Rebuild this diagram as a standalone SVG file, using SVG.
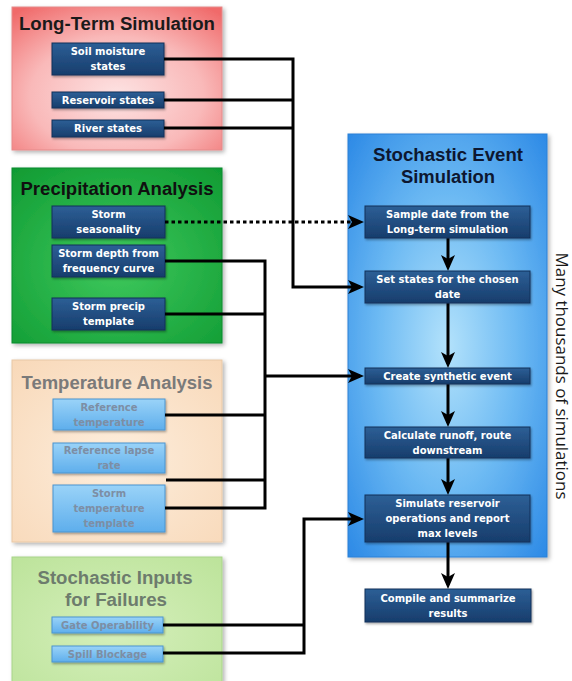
<svg xmlns="http://www.w3.org/2000/svg" width="572" height="681" viewBox="0 0 572 681">
  <defs>
    <radialGradient id="gPink" cx="0.5" cy="0.62" r="0.75">
      <stop offset="0" stop-color="#fde3e3"/>
      <stop offset="0.55" stop-color="#f9b9b9"/>
      <stop offset="1" stop-color="#f06b6b"/>
    </radialGradient>
    <radialGradient id="gGreen" cx="0.5" cy="0.55" r="0.75">
      <stop offset="0" stop-color="#3fc95d"/>
      <stop offset="1" stop-color="#0f9a32"/>
    </radialGradient>
    <radialGradient id="gPeach" cx="0.5" cy="0.55" r="0.75">
      <stop offset="0" stop-color="#fdeedd"/>
      <stop offset="1" stop-color="#f8d8b8"/>
    </radialGradient>
    <radialGradient id="gLime" cx="0.5" cy="0.55" r="0.75">
      <stop offset="0" stop-color="#d5efbb"/>
      <stop offset="1" stop-color="#bce39a"/>
    </radialGradient>
    <radialGradient id="gSky" cx="0.5" cy="0.5" r="0.7">
      <stop offset="0" stop-color="#b3e2fb"/>
      <stop offset="0.5" stop-color="#6dbaf3"/>
      <stop offset="1" stop-color="#2d8ae6"/>
    </radialGradient>
    <linearGradient id="gNavy" x1="0" y1="0" x2="0" y2="1">
      <stop offset="0" stop-color="#2d5f96"/>
      <stop offset="1" stop-color="#173d6c"/>
    </linearGradient>
    <linearGradient id="gLight" x1="0" y1="0" x2="0" y2="1">
      <stop offset="0" stop-color="#9ad3f8"/>
      <stop offset="1" stop-color="#5eaeec"/>
    </linearGradient>
    <filter id="shadow" x="-10%" y="-10%" width="125%" height="125%">
      <feDropShadow dx="2" dy="2" stdDeviation="2" flood-color="#000" flood-opacity="0.3"/>
    </filter>
    <filter id="nshadow" x="-10%" y="-20%" width="125%" height="160%">
      <feDropShadow dx="1" dy="1.5" stdDeviation="1" flood-color="#000" flood-opacity="0.35"/>
    </filter>
    <marker id="arrow" markerUnits="userSpaceOnUse" markerWidth="17" markerHeight="15" refX="12" refY="7" orient="auto">
      <path d="M0,0 L16,7 L0,14 L4,7 Z" fill="#000"/>
    </marker>
    <style>
      .panel { stroke-width: 1; filter: url(#shadow); }
      .title { font-family: "Liberation Sans", Arial, sans-serif; font-weight: bold; text-anchor: middle; }
      .node { fill: url(#gNavy); stroke: #10305a; stroke-width: 1; filter: url(#nshadow); }
      .lnode { fill: url(#gLight); stroke: #4b94cf; stroke-width: 1; filter: url(#nshadow); }
      .nt { font-family: "DejaVu Sans", Verdana, sans-serif; font-weight: bold; font-size: 10px; fill: #ffffff; text-anchor: middle; }
      .lt { font-family: "DejaVu Sans", Verdana, sans-serif; font-weight: bold; font-size: 10px; fill: #7d8ea4; text-anchor: middle; }
      .wire { fill: none; stroke: #000; stroke-width: 3; stroke-linejoin: miter; }
      .dots { stroke-dasharray: 3.5 3; }
    </style>
  </defs>

  <rect width="572" height="681" fill="#ffffff"/>

  <!-- Long-Term Simulation -->
  <g id="panel-longterm">
    <rect class="panel" x="12" y="7" width="210" height="143" fill="url(#gPink)" stroke="#e58a8a"/>
    <text class="title" x="117" y="30" font-size="18" fill="#1a1a1a" textLength="196" lengthAdjust="spacingAndGlyphs">Long-Term Simulation</text>
  </g>
  <g id="node-soil">
    <rect class="node" x="52" y="43" width="112" height="32"/>
    <text class="nt" x="108" y="55">Soil moisture</text>
    <text class="nt" x="108" y="70">states</text>
  </g>
  <g id="node-reservoir">
    <rect class="node" x="52" y="92" width="112" height="16"/>
    <text class="nt" x="108" y="103.5">Reservoir states</text>
  </g>
  <g id="node-river">
    <rect class="node" x="52" y="120" width="112" height="17"/>
    <text class="nt" x="108" y="132">River states</text>
  </g>

  <!-- Precipitation Analysis -->
  <g id="panel-precip">
    <rect class="panel" x="12" y="168" width="210" height="175" fill="url(#gGreen)" stroke="#0c8a2c"/>
    <text class="title" x="117" y="195" font-size="18" fill="#101010" textLength="193" lengthAdjust="spacingAndGlyphs">Precipitation Analysis</text>
  </g>
  <g id="node-seasonality">
    <rect class="node" x="52" y="206" width="113" height="32"/>
    <text class="nt" x="108.5" y="218">Storm</text>
    <text class="nt" x="108.5" y="233">seasonality</text>
  </g>
  <g id="node-depth">
    <rect class="node" x="52" y="245" width="113" height="32"/>
    <text class="nt" x="108.5" y="257">Storm depth from</text>
    <text class="nt" x="108.5" y="272">frequency curve</text>
  </g>
  <g id="node-precip-template">
    <rect class="node" x="52" y="298" width="113" height="32"/>
    <text class="nt" x="108.5" y="310">Storm precip</text>
    <text class="nt" x="108.5" y="325">template</text>
  </g>

  <!-- Temperature Analysis -->
  <g id="panel-temp">
    <rect class="panel" x="12" y="360" width="210" height="182" fill="url(#gPeach)" stroke="#e8c8a6"/>
    <text class="title" x="117" y="389" font-size="18" fill="#7a7a7a" textLength="191" lengthAdjust="spacingAndGlyphs">Temperature Analysis</text>
  </g>
  <g id="node-ref-temp">
    <rect class="lnode" x="53" y="399" width="112" height="31"/>
    <text class="lt" x="109" y="410.5">Reference</text>
    <text class="lt" x="109" y="425.5">temperature</text>
  </g>
  <g id="node-lapse">
    <rect class="lnode" x="53" y="443" width="112" height="30"/>
    <text class="lt" x="109" y="454">Reference lapse</text>
    <text class="lt" x="109" y="469">rate</text>
  </g>
  <g id="node-storm-temp">
    <rect class="lnode" x="53" y="485" width="112" height="47"/>
    <text class="lt" x="109" y="497">Storm</text>
    <text class="lt" x="109" y="512">temperature</text>
    <text class="lt" x="109" y="527">template</text>
  </g>

  <!-- Stochastic Inputs for Failures -->
  <g id="panel-failures">
    <rect class="panel" x="12" y="557" width="210" height="135" fill="url(#gLime)" stroke="#a8d489"/>
    <text class="title" x="115" y="584" font-size="18" fill="#6d7c6d" textLength="155" lengthAdjust="spacingAndGlyphs">Stochastic Inputs</text>
    <text class="title" x="116" y="606" font-size="18" fill="#6d7c6d" textLength="102" lengthAdjust="spacingAndGlyphs">for Failures</text>
  </g>
  <g id="node-gate">
    <rect class="lnode" x="52" y="617" width="111" height="16"/>
    <text class="lt" x="107.5" y="628.5">Gate Operability</text>
  </g>
  <g id="node-spill">
    <rect class="lnode" x="52" y="646" width="111" height="16"/>
    <text class="lt" x="107.5" y="657.5">Spill Blockage</text>
  </g>

  <!-- Stochastic Event Simulation -->
  <g id="panel-event">
    <rect class="panel" x="348" y="134" width="199" height="423" fill="url(#gSky)" stroke="#2a80d6"/>
    <text class="title" x="448" y="161" font-size="18" fill="#0d1730" textLength="150" lengthAdjust="spacingAndGlyphs">Stochastic Event</text>
    <text class="title" x="448" y="183" font-size="18" fill="#0d1730" textLength="94" lengthAdjust="spacingAndGlyphs">Simulation</text>
  </g>

  <!-- Connectors -->
  <g id="connectors">
    <path class="wire" d="M164,59 H293 V287 H360" marker-end="url(#arrow)"/>
    <path class="wire" d="M164,100 H293"/>
    <path class="wire" d="M164,128 H293"/>
    <path class="wire dots" d="M165,222 H360" marker-end="url(#arrow)"/>
    <path class="wire" d="M165,261 H265 V508 H165"/>
    <path class="wire" d="M165,314 H265"/>
    <path class="wire" d="M165,415 H265"/>
    <path class="wire" d="M166,480 H265"/>
    <path class="wire" d="M265,376 H360" marker-end="url(#arrow)"/>
    <path class="wire" d="M163,625 H304"/>
    <path class="wire" d="M163,653 H304 V519 H360" marker-end="url(#arrow)"/>
    <path class="wire" d="M448,238 V267" marker-end="url(#arrow)"/>
    <path class="wire" d="M448,303 V364" marker-end="url(#arrow)"/>
    <path class="wire" d="M448,384 V423" marker-end="url(#arrow)"/>
    <path class="wire" d="M448,458 V491" marker-end="url(#arrow)"/>
    <path class="wire" d="M448,542 V585" marker-end="url(#arrow)"/>
  </g>

  <g id="node-sample">
    <rect class="node" x="365" y="206" width="165" height="32"/>
    <text class="nt" x="447.5" y="218">Sample date from the</text>
    <text class="nt" x="447.5" y="233">Long-term simulation</text>
  </g>
  <g id="node-set-states">
    <rect class="node" x="365" y="271" width="165" height="32"/>
    <text class="nt" x="447.5" y="283">Set states for the chosen</text>
    <text class="nt" x="447.5" y="298">date</text>
  </g>
  <g id="node-create">
    <rect class="node" x="365" y="368" width="165" height="16"/>
    <text class="nt" x="447.5" y="379.5">Create synthetic event</text>
  </g>
  <g id="node-runoff">
    <rect class="node" x="365" y="427" width="165" height="31"/>
    <text class="nt" x="447.5" y="438.5">Calculate runoff, route</text>
    <text class="nt" x="447.5" y="453.5">downstream</text>
  </g>
  <g id="node-reservoir-ops">
    <rect class="node" x="365" y="495" width="165" height="47"/>
    <text class="nt" x="447.5" y="507">Simulate reservoir</text>
    <text class="nt" x="447.5" y="522">operations and report</text>
    <text class="nt" x="447.5" y="537">max levels</text>
  </g>
  <g id="node-compile">
    <rect class="node" x="365" y="589" width="166" height="33"/>
    <text class="nt" x="448" y="601.5">Compile and summarize</text>
    <text class="nt" x="448" y="616.5">results</text>
  </g>

  <text id="side-label" x="562" y="376" transform="rotate(90 562 376)" font-family="'Open Sans', 'Liberation Sans', sans-serif" font-size="15.5" fill="#1a1a1a" text-anchor="middle" dominant-baseline="central" textLength="247" lengthAdjust="spacingAndGlyphs">Many thousands of simulations</text>
</svg>
